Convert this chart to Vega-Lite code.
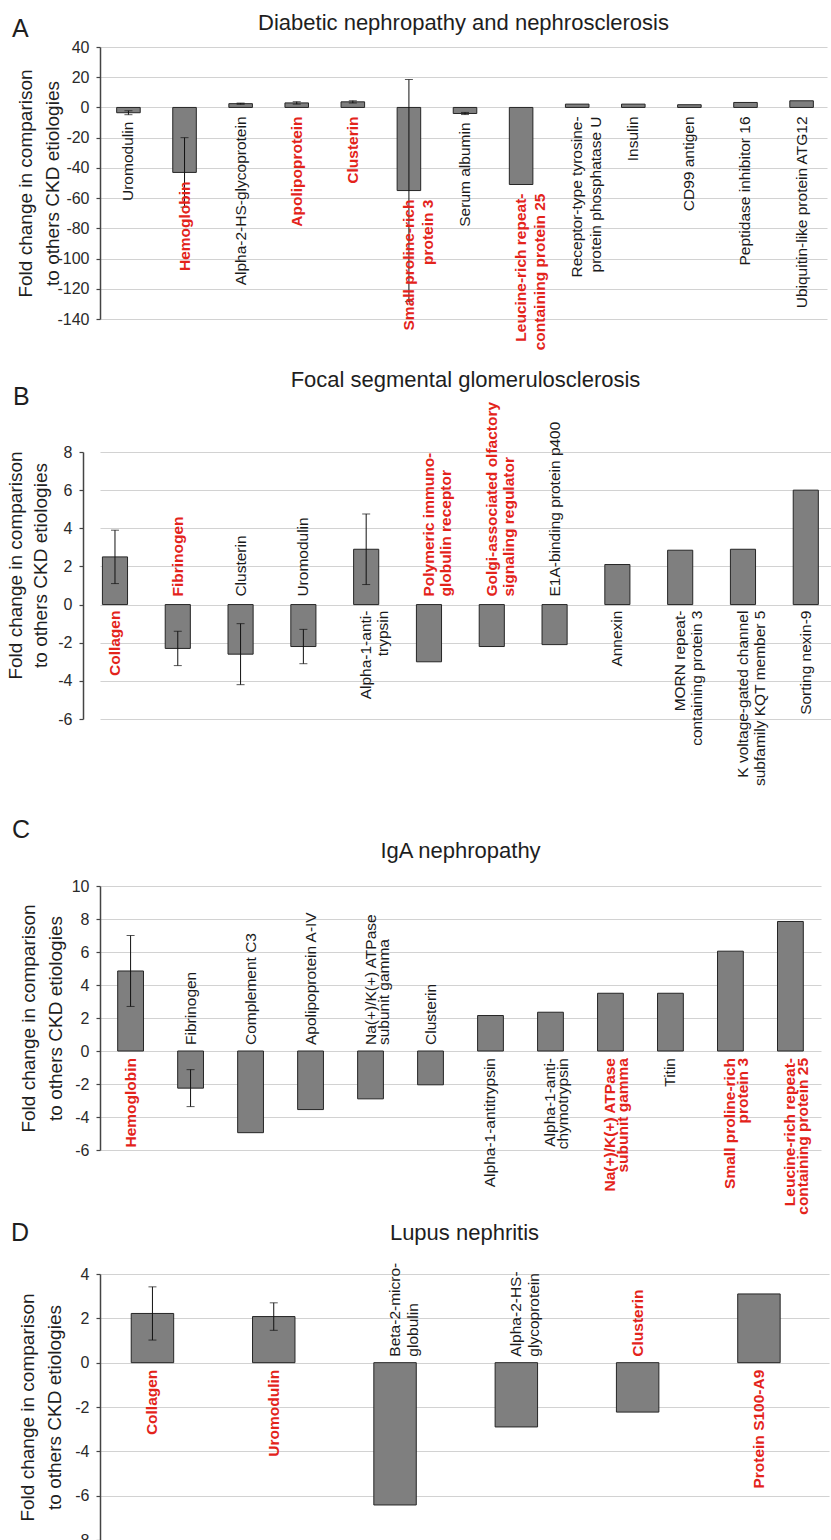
{
  "$schema": "https://vega.github.io/schema/vega-lite/v6.json",
  "background": "white",
  "padding": {"left": 6, "top": 12, "right": 0, "bottom": 0},
  "config": {
    "font": "Liberation Sans",
    "view": {"stroke": null},
    "axisY": {
      "domainColor": "#444444", "domainWidth": 1.5,
      "tickColor": "#444444", "tickSize": 4, "tickWidth": 1.2,
      "labelFontSize": 16, "labelColor": "#2a2a2a", "labelPadding": 7,
      "labelExpr": "'' + datum.value",
      "minExtent": 30, "maxExtent": 30,
      "titleFontSize": 19, "titleFontWeight": "normal", "titleColor": "#1e1e1e", "titleLineHeight": 27,
      "grid": true, "gridColor": "#d2d2d2", "gridWidth": 1.2
    },
    "title": {"fontSize": 22, "fontWeight": "normal", "color": "#1e1e1e"}
  },
  "datasets": {
    "A": [
      {"protein": "Uromodulin", "label": "Uromodulin", "fc": -3.5, "err": 1.3, "tag": "other"},
      {"protein": "Hemoglobin", "label": "Hemoglobin", "fc": -43, "err": 23, "tag": "candidate"},
      {"protein": "Alpha-2-HS-glycoprotein", "label": "Alpha-2-HS-glycoprotein", "fc": 2.5, "err": 0.4, "tag": "other"},
      {"protein": "Apolipoprotein", "label": "Apolipoprotein", "fc": 3.0, "err": 0.8, "tag": "candidate"},
      {"protein": "Clusterin", "label": "Clusterin", "fc": 3.7, "err": 0.8, "tag": "candidate"},
      {"protein": "Small proline-rich protein 3", "label": "Small proline-rich\nprotein 3", "fc": -55, "err": 73.5, "tag": "candidate"},
      {"protein": "Serum albumin", "label": "Serum albumin", "fc": -4, "err": 0.7, "tag": "other"},
      {"protein": "Leucine-rich repeat-containing protein 25", "label": "Leucine-rich repeat-\ncontaining protein 25", "fc": -51, "tag": "candidate"},
      {"protein": "Receptor-type tyrosine-protein phosphatase U", "label": "Receptor-type tyrosine-\nprotein phosphatase U", "fc": 2.2, "tag": "other"},
      {"protein": "Insulin", "label": "Insulin", "fc": 2.2, "tag": "other"},
      {"protein": "CD99 antigen", "label": "CD99 antigen", "fc": 1.8, "tag": "other"},
      {"protein": "Peptidase inhibitor 16", "label": "Peptidase inhibitor 16", "fc": 3.3, "tag": "other"},
      {"protein": "Ubiquitin-like protein ATG12", "label": "Ubiquitin-like protein ATG12", "fc": 4.4, "tag": "other"}
    ],
    "B": [
      {"protein": "Collagen", "label": "Collagen", "fc": 2.5, "err": 1.4, "tag": "candidate"},
      {"protein": "Fibrinogen", "label": "Fibrinogen", "fc": -2.3, "err": 0.9, "tag": "candidate"},
      {"protein": "Clusterin", "label": "Clusterin", "fc": -2.6, "err": 1.6, "tag": "other"},
      {"protein": "Uromodulin", "label": "Uromodulin", "fc": -2.2, "err": 0.9, "tag": "other"},
      {"protein": "Alpha-1-antitrypsin", "label": "Alpha-1-anti-\ntrypsin", "fc": 2.9, "err": 1.85, "tag": "other"},
      {"protein": "Polymeric immunoglobulin receptor", "label": "Polymeric immuno-\nglobulin receptor", "fc": -3.0, "tag": "candidate"},
      {"protein": "Golgi-associated olfactory signaling regulator", "label": "Golgi-associated olfactory\nsignaling regulator", "fc": -2.2, "tag": "candidate"},
      {"protein": "E1A-binding protein p400", "label": "E1A-binding protein p400", "fc": -2.1, "tag": "other"},
      {"protein": "Annexin", "label": "Annexin", "fc": 2.1, "tag": "other"},
      {"protein": "MORN repeat-containing protein 3", "label": "MORN repeat-\ncontaining protein 3", "fc": 2.85, "tag": "other"},
      {"protein": "K voltage-gated channel subfamily KQT member 5", "label": "K voltage-gated channel\nsubfamily KQT member 5", "fc": 2.9, "tag": "other"},
      {"protein": "Sorting nexin-9", "label": "Sorting nexin-9", "fc": 6.0, "tag": "other"}
    ],
    "C": [
      {"protein": "Hemoglobin", "label": "Hemoglobin", "fc": 4.85, "err": 2.15, "tag": "candidate"},
      {"protein": "Fibrinogen", "label": "Fibrinogen", "fc": -2.25, "err": 1.12, "tag": "other"},
      {"protein": "Complement C3", "label": "Complement C3", "fc": -4.95, "tag": "other"},
      {"protein": "Apolipoprotein A-IV", "label": "Apolipoprotein A-IV", "fc": -3.55, "tag": "other"},
      {"protein": "Na(+)/K(+) ATPase subunit gamma (down)", "label": "Na(+)/K(+) ATPase\nsubunit gamma", "fc": -2.9, "tag": "other"},
      {"protein": "Clusterin", "label": "Clusterin", "fc": -2.05, "tag": "other"},
      {"protein": "Alpha-1-antitrypsin", "label": "Alpha-1-antitrypsin", "fc": 2.15, "tag": "other"},
      {"protein": "Alpha-1-antichymotrypsin", "label": "Alpha-1-anti-\nchymotrypsin", "fc": 2.35, "tag": "other"},
      {"protein": "Na(+)/K(+) ATPase subunit gamma (up)", "label": "Na(+)/K(+) ATPase\nsubunit gamma", "fc": 3.5, "tag": "candidate"},
      {"protein": "Titin", "label": "Titin", "fc": 3.5, "tag": "other"},
      {"protein": "Small proline-rich protein 3", "label": "Small proline-rich\nprotein 3", "fc": 6.05, "tag": "candidate"},
      {"protein": "Leucine-rich repeat-containing protein 25", "label": "Leucine-rich repeat-\ncontaining protein 25", "fc": 7.85, "tag": "candidate"}
    ],
    "D": [
      {"protein": "Collagen", "label": "Collagen", "fc": 2.22, "err": 1.2, "tag": "candidate"},
      {"protein": "Uromodulin", "label": "Uromodulin", "fc": 2.08, "err": 0.62, "tag": "candidate"},
      {"protein": "Beta-2-microglobulin", "label": "Beta-2-micro-\nglobulin", "fc": -6.42, "tag": "other"},
      {"protein": "Alpha-2-HS-glycoprotein", "label": "Alpha-2-HS-\nglycoprotein", "fc": -2.9, "tag": "other"},
      {"protein": "Clusterin", "label": "Clusterin", "fc": -2.23, "tag": "candidate"},
      {"protein": "Protein S100-A9", "label": "Protein S100-A9", "fc": 3.1, "tag": "candidate"}
    ]
  },
  "columns": 1,
  "align": "none",
  "spacing": 17,
  "resolve": {"scale": {"x": "independent", "y": "independent", "color": "independent"}},
  "concat": [
    {
      "title": {"text": "A", "anchor": "start", "frame": "bounds", "fontSize": 25, "offset": -30, "dx": -4},
      "vconcat": [
        {
          "title": {"text": "Diabetic nephropathy and nephrosclerosis", "frame": "group", "offset": 4},
          "width": 727, "height": 272,
          "data": {"name": "A"},
          "encoding": {
            "x": {"field": "protein", "type": "nominal", "sort": null, "axis": null,
                  "scale": {"paddingInner": 0.58, "paddingOuter": 0.27, "align": 0.55}},
            "y": {"field": "fc", "type": "quantitative",
                  "scale": {"domain": [-140, 40], "nice": false, "zero": false},
                  "axis": {"values": [-140, -120, -100, -80, -60, -40, -20, 0, 20, 40],
                           "title": ["Fold change in comparison", "to others CKD etiologies"], "titlePadding": 8}}
          },
          "layer": [
            {"mark": {"type": "bar", "fill": "#7f7f7f", "stroke": "#262626", "strokeWidth": 1}},
            {"transform": [{"filter": "isValid(datum.err)"}],
             "mark": {"type": "errorbar", "ticks": {"size": 8, "color": "#111111"}, "rule": {"color": "#111111"}},
             "encoding": {"yError": {"field": "err"}}},
            {"transform": [{"filter": "datum.fc >= 0"}],
             "mark": {"type": "text", "angle": 270, "align": "right", "baseline": "middle", "dx": -9,
                      "fontSize": 15.5, "lineBreak": "\n", "lineHeight": 19,
                      "fontWeight": {"expr": "datum.tag === 'candidate' ? 'bold' : 'normal'"}},
             "encoding": {"y": {"datum": 0}, "text": {"field": "label"},
                          "color": {"field": "tag", "type": "nominal", "legend": null,
                                    "scale": {"domain": ["candidate", "other"], "range": ["#e3231b", "#1a1a1a"]}}}},
            {"transform": [{"filter": "datum.fc < 0"}],
             "mark": {"type": "text", "angle": 270, "align": "right", "baseline": "middle", "dx": -9,
                      "fontSize": 15.5, "lineBreak": "\n", "lineHeight": 19,
                      "fontWeight": {"expr": "datum.tag === 'candidate' ? 'bold' : 'normal'"}},
             "encoding": {"text": {"field": "label"},
                          "color": {"field": "tag", "type": "nominal", "legend": null,
                                    "scale": {"domain": ["candidate", "other"], "range": ["#e3231b", "#1a1a1a"]}}}}
          ]
        }
      ]
    },
    {
      "columns": 1,
      "align": "none",
      "spacing": 31,
      "resolve": {"scale": {"x": "independent", "y": "independent", "color": "independent"}},
      "concat": [
        {
          "title": {"text": "B", "anchor": "start", "frame": "bounds", "fontSize": 25, "offset": -41, "dx": 7},
          "vconcat": [
            {
              "title": {"text": "Focal segmental glomerulosclerosis", "frame": "group", "offset": 10},
              "width": 731, "height": 267,
              "data": {"name": "B"},
              "encoding": {
                "x": {"field": "protein", "type": "nominal", "sort": null, "axis": null,
                      "scale": {"paddingInner": 0.6, "paddingOuter": 0.12, "align": 0.16}},
                "y": {"field": "fc", "type": "quantitative",
                      "scale": {"domain": [-6, 8], "nice": false, "zero": false},
                      "axis": {"values": [-6, -4, -2, 0, 2, 4, 6, 8], "offset": 17,
                               "title": ["Fold change in comparison", "to others CKD etiologies"],
                               "titlePadding": 3, "titleLineHeight": 25, "titleY": 113}}
              },
              "layer": [
                {"mark": {"type": "bar", "fill": "#7f7f7f", "stroke": "#262626", "strokeWidth": 1}},
                {"transform": [{"filter": "isValid(datum.err)"}],
                 "mark": {"type": "errorbar", "ticks": {"size": 8, "color": "#111111"}, "rule": {"color": "#111111"}},
                 "encoding": {"yError": {"field": "err"}}},
                {"transform": [{"filter": "datum.fc >= 0"}],
                 "mark": {"type": "text", "angle": 270, "align": "right", "baseline": "middle", "dx": -6,
                          "fontSize": 15.5, "lineBreak": "\n", "lineHeight": 17,
                          "fontWeight": {"expr": "datum.tag === 'candidate' ? 'bold' : 'normal'"}},
                 "encoding": {"y": {"datum": 0}, "text": {"field": "label"},
                              "color": {"field": "tag", "type": "nominal", "legend": null,
                                        "scale": {"domain": ["candidate", "other"], "range": ["#e3231b", "#1a1a1a"]}}}},
                {"transform": [{"filter": "datum.fc < 0"}],
                 "mark": {"type": "text", "angle": 270, "align": "left", "baseline": "middle", "dx": 8,
                          "fontSize": 15.5, "lineBreak": "\n", "lineHeight": 17,
                          "fontWeight": {"expr": "datum.tag === 'candidate' ? 'bold' : 'normal'"}},
                 "encoding": {"y": {"datum": 0}, "text": {"field": "label"},
                              "color": {"field": "tag", "type": "nominal", "legend": null,
                                        "scale": {"domain": ["candidate", "other"], "range": ["#e3231b", "#1a1a1a"]}}}}
              ]
            }
          ]
        },
        {
          "columns": 1,
          "align": "none",
          "spacing": 5,
          "resolve": {"scale": {"x": "independent", "y": "independent", "color": "independent"}},
          "concat": [
            {
              "title": {"text": "C", "anchor": "start", "frame": "bounds", "fontSize": 25, "offset": -3, "dx": -7},
              "vconcat": [
                {
                  "title": {"text": "IgA nephropathy", "frame": "group", "offset": 15},
                  "width": 721, "height": 264,
                  "data": {"name": "C"},
                  "encoding": {
                    "x": {"field": "protein", "type": "nominal", "sort": null, "axis": null,
                          "scale": {"paddingInner": 0.57, "paddingOuter": 0.295}},
                    "y": {"field": "fc", "type": "quantitative",
                          "scale": {"domain": [-6, 10], "nice": false, "zero": false},
                          "axis": {"values": [-6, -4, -2, 0, 2, 4, 6, 8, 10],
                                   "title": ["Fold change in comparison", "to others CKD etiologies"], "titlePadding": 5}}
                  },
                  "layer": [
                    {"mark": {"type": "bar", "fill": "#7f7f7f", "stroke": "#262626", "strokeWidth": 1}},
                    {"transform": [{"filter": "isValid(datum.err)"}],
                     "mark": {"type": "errorbar", "ticks": {"size": 8, "color": "#111111"}, "rule": {"color": "#111111"}},
                     "encoding": {"yError": {"field": "err"}}},
                    {"transform": [{"filter": "datum.fc >= 0"}],
                     "mark": {"type": "text", "angle": 270, "align": "right", "baseline": "middle", "dx": -7,
                              "fontSize": 15.5, "lineBreak": "\n", "lineHeight": 13,
                              "fontWeight": {"expr": "datum.tag === 'candidate' ? 'bold' : 'normal'"}},
                     "encoding": {"y": {"datum": 0}, "text": {"field": "label"},
                                  "color": {"field": "tag", "type": "nominal", "legend": null,
                                            "scale": {"domain": ["candidate", "other"], "range": ["#e3231b", "#1a1a1a"]}}}},
                    {"transform": [{"filter": "datum.fc < 0"}],
                     "mark": {"type": "text", "angle": 270, "align": "left", "baseline": "middle", "dx": 6,
                              "fontSize": 15.5, "lineBreak": "\n", "lineHeight": 13,
                              "fontWeight": {"expr": "datum.tag === 'candidate' ? 'bold' : 'normal'"}},
                     "encoding": {"y": {"datum": 0}, "text": {"field": "label"},
                                  "color": {"field": "tag", "type": "nominal", "legend": null,
                                            "scale": {"domain": ["candidate", "other"], "range": ["#e3231b", "#1a1a1a"]}}}}
                  ]
                }
              ]
            },
            {
              "title": {"text": "D", "anchor": "start", "frame": "bounds", "fontSize": 25, "offset": -24, "dx": -7},
              "vconcat": [
                {
                  "title": {"text": "Lupus nephritis", "frame": "group", "offset": 18},
                  "width": 729, "height": 266,
                  "data": {"name": "D"},
                  "encoding": {
                    "x": {"field": "protein", "type": "nominal", "sort": null, "axis": null,
                          "scale": {"paddingInner": 0.65, "paddingOuter": 0.33, "align": 0.39}},
                    "y": {"field": "fc", "type": "quantitative",
                          "scale": {"domain": [-8, 4], "nice": false, "zero": false},
                          "axis": {"values": [-8, -6, -4, -2, 0, 2, 4],
                                   "title": ["Fold change in comparison", "to others CKD etiologies"], "titlePadding": 6}}
                  },
                  "layer": [
                    {"mark": {"type": "bar", "fill": "#7f7f7f", "stroke": "#262626", "strokeWidth": 1}},
                    {"transform": [{"filter": "isValid(datum.err)"}],
                     "mark": {"type": "errorbar", "ticks": {"size": 8, "color": "#111111"}, "rule": {"color": "#111111"}},
                     "encoding": {"yError": {"field": "err"}}},
                    {"transform": [{"filter": "datum.fc >= 0"}],
                     "mark": {"type": "text", "angle": 270, "align": "right", "baseline": "middle", "dx": -7,
                              "fontSize": 15.5, "lineBreak": "\n", "lineHeight": 18,
                              "fontWeight": {"expr": "datum.tag === 'candidate' ? 'bold' : 'normal'"}},
                     "encoding": {"y": {"datum": 0}, "text": {"field": "label"},
                                  "color": {"field": "tag", "type": "nominal", "legend": null,
                                            "scale": {"domain": ["candidate", "other"], "range": ["#e3231b", "#1a1a1a"]}}}},
                    {"transform": [{"filter": "datum.fc < 0"}],
                     "mark": {"type": "text", "angle": 270, "align": "left", "baseline": "middle", "dx": 6,
                              "fontSize": 15.5, "lineBreak": "\n", "lineHeight": 18,
                              "fontWeight": {"expr": "datum.tag === 'candidate' ? 'bold' : 'normal'"}},
                     "encoding": {"y": {"datum": 0}, "text": {"field": "label"},
                                  "color": {"field": "tag", "type": "nominal", "legend": null,
                                            "scale": {"domain": ["candidate", "other"], "range": ["#e3231b", "#1a1a1a"]}}}}
                  ]
                }
              ]
            }
          ]
        }
      ]
    }
  ]
}
